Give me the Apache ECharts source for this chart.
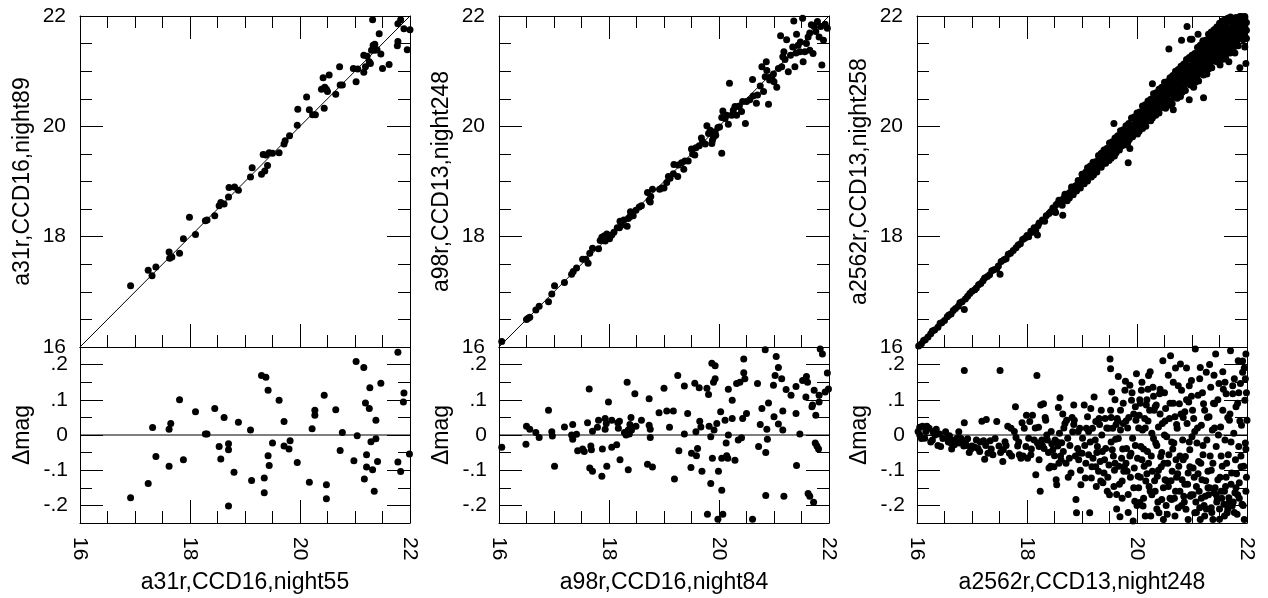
<!DOCTYPE html>
<html>
<head>
<meta charset="utf-8">
<script src="https://cdn.jsdelivr.net/npm/echarts@6/dist/echarts.min.js"></script>
<style>
html,body{margin:0;padding:0;background:#fff;}
#chart{width:1268px;height:598px;}
</style>
</head>
<body>
<div id="chart"></div>
<script>
// ---------- tick labels / titles ----------
const magTicks = [16, 18, 20, 22];
const resTicks = [-0.2, -0.1, 0, 0.1, 0.2];
const xTitles = ['a31r,CCD16,night55', 'a98r,CCD16,night84', 'a2562r,CCD13,night248'];
const yTitles = ['a31r,CCD16,night89', 'a98r,CCD13,night248', 'a2562r,CCD13,night258'];
const resTitle = 'Δmag';
const identityLine = [16, 22];
const zeroLevel = 0;

// ---------- panel 1 ----------
const p1Top = [[16.92,17.11],[17.24,17.39],[17.31,17.29],[17.38,17.45],[17.62,17.72],[17.63,17.61],[17.67,17.63],[17.81,17.70],[17.88,17.96],[17.99,18.35],[18.10,18.04],[18.28,18.29],[18.31,18.30],[18.45,18.38],[18.53,18.56],[18.56,18.62],[18.62,18.59],[18.70,18.72],[18.71,18.89],[18.81,18.90],[18.88,18.84],[19.10,19.08],[19.13,19.25],[19.30,19.13],[19.36,19.19],[19.41,19.29],[19.33,19.49],[19.38,19.48],[19.44,19.52],[19.50,19.51],[19.62,19.52],[19.71,19.68],[19.73,19.74],[19.81,19.83],[19.95,20.02],[19.96,20.31],[20.12,20.53],[20.17,20.30],[20.23,20.21],[20.28,20.21],[20.39,20.67],[20.44,20.33],[20.45,20.71],[20.48,20.67],[20.50,20.63],[20.42,20.88],[20.53,20.93],[20.65,20.58],[20.72,21.08],[20.73,20.75],[20.77,20.75],[20.97,21.05],[21.02,20.81],[21.05,21.04],[21.16,20.98],[21.16,21.29],[21.19,21.08],[21.22,21.27],[21.26,21.17],[21.28,21.14],[21.30,21.38],[21.33,21.47],[21.36,21.38],[21.32,21.93],[21.36,21.49],[21.40,21.39],[21.44,21.68],[21.47,21.31],[21.50,21.05],[21.62,21.12],[21.77,21.46],[21.78,21.54],[21.78,21.86],[21.83,21.93],[21.89,21.77],[21.95,21.39],[22.0,21.75]];
const p1Res = [[16.92,-0.178],[17.24,-0.138],[17.32,0.021],[17.38,-0.061],[17.62,0.016],[17.65,0.033],[17.62,-0.089],[17.81,0.100],[17.88,-0.070],[18.10,0.066],[18.28,0.003],[18.31,0.003],[18.45,0.075],[18.53,-0.033],[18.56,-0.068],[18.62,0.050],[18.70,-0.025],[18.70,-0.042],[18.70,-0.202],[18.80,-0.106],[18.88,0.036],[19.10,0.014],[19.12,-0.129],[19.30,0.169],[19.38,0.164],[19.35,-0.122],[19.35,-0.164],[19.42,0.127],[19.42,-0.059],[19.44,-0.087],[19.50,-0.023],[19.62,0.099],[19.71,0.038],[19.71,-0.031],[19.80,-0.040],[19.82,-0.016],[19.95,-0.078],[20.17,-0.134],[20.22,0.018],[20.27,0.070],[20.27,0.056],[20.44,0.113],[20.48,-0.141],[20.48,-0.181],[20.65,0.072],[20.73,-0.044],[20.77,0.007],[20.98,-0.073],[21.02,0.209],[21.04,-0.002],[21.16,0.192],[21.17,-0.125],[21.19,0.091],[21.21,-0.056],[21.21,-0.091],[21.26,0.075],[21.27,0.134],[21.29,-0.019],[21.32,-0.099],[21.35,-0.160],[21.38,-0.011],[21.38,0.042],[21.41,-0.075],[21.47,0.147],[21.78,0.235],[21.78,-0.077],[21.83,-0.104],[21.89,0.119],[21.88,0.094],[21.99,-0.054]];

// ---------- panel 2 ----------
const p2Top = [[16.05,16.10],[16.50,16.50],[16.53,16.52],[16.56,16.54],[16.67,16.67],[16.73,16.74],[16.90,16.82],[16.96,16.96],[17.01,17.11],[17.19,17.17],[17.32,17.32],[17.35,17.37],[17.41,17.43],[17.52,17.59],[17.58,17.59],[17.62,17.52],[17.65,17.70],[17.70,17.79],[17.81,17.78],[17.84,17.93],[17.87,17.99],[17.88,17.94],[17.91,18.01],[17.93,17.92],[17.96,18.05],[18.01,17.96],[18.05,18.03],[18.09,18.08],[18.15,18.16],[18.19,18.16],[18.20,18.28],[18.23,18.21],[18.27,18.30],[18.33,18.19],[18.35,18.33],[18.38,18.36],[18.39,18.45],[18.44,18.38],[18.49,18.48],[18.55,18.54],[18.59,18.56],[18.70,18.80],[18.73,18.66],[18.75,18.63],[18.76,18.73],[18.79,18.86],[18.92,18.86],[18.96,18.88],[19.00,18.88],[19.05,18.98],[19.08,19.09],[19.11,19.06],[19.17,19.14],[19.18,19.31],[19.25,19.09],[19.26,19.30],[19.32,19.34],[19.36,19.22],[19.38,19.37],[19.44,19.37],[19.50,19.59],[19.52,19.50],[19.56,19.48],[19.58,19.61],[19.64,19.65],[19.68,19.79],[19.70,19.72],[19.75,19.68],[19.78,20.01],[19.81,19.87],[19.84,19.93],[19.87,19.69],[19.88,19.75],[19.90,19.80],[19.93,19.90],[19.94,19.84],[19.98,19.98],[20.01,19.99],[20.05,19.51],[20.05,20.16],[20.07,20.28],[20.11,20.14],[20.14,20.20],[20.17,20.04],[20.19,20.78],[20.23,20.20],[20.26,20.29],[20.29,20.36],[20.32,20.20],[20.35,20.36],[20.37,20.37],[20.41,20.27],[20.43,20.45],[20.48,20.05],[20.50,20.45],[20.56,20.48],[20.61,20.85],[20.62,20.55],[20.68,20.42],[20.70,20.57],[20.75,20.73],[20.78,21.08],[20.81,20.63],[20.84,20.90],[20.86,21.17],[20.87,21.01],[20.90,20.40],[20.92,20.84],[20.93,20.89],[20.96,20.87],[20.99,20.95],[21.00,20.81],[21.05,20.71],[21.08,21.05],[21.12,21.64],[21.14,21.08],[21.16,21.26],[21.18,21.35],[21.20,21.21],[21.23,21.57],[21.26,20.99],[21.30,21.29],[21.34,21.44],[21.36,21.91],[21.38,21.08],[21.40,21.33],[21.41,21.67],[21.44,21.47],[21.47,21.35],[21.48,21.53],[21.52,21.96],[21.53,21.17],[21.56,21.35],[21.59,21.50],[21.62,21.62],[21.65,21.69],[21.65,21.38],[21.68,21.84],[21.71,21.32],[21.73,21.81],[21.76,21.72],[21.79,21.90],[21.82,21.62],[21.85,21.81],[21.87,21.11],[21.90,21.56],[21.93,21.85],[21.97,21.78]];
const p2Res = [[16.05,-0.035],[16.49,-0.026],[16.50,0.025],[16.56,0.016],[16.67,0.007],[16.73,-0.007],[16.90,0.070],[16.96,0.009],[16.97,-0.003],[17.01,-0.089],[17.19,0.023],[17.32,0.0],[17.34,0.030],[17.34,-0.012],[17.41,0.002],[17.43,-0.045],[17.52,-0.040],[17.55,-0.047],[17.61,0.035],[17.64,0.131],[17.67,-0.031],[17.68,-0.042],[17.65,-0.094],[17.70,-0.103],[17.70,0.011],[17.79,0.022],[17.81,0.042],[17.87,-0.117],[17.88,-0.040],[17.93,0.047],[17.93,0.016],[17.95,0.033],[17.96,-0.089],[17.99,0.094],[18.05,0.042],[18.05,-0.035],[18.14,-0.028],[18.16,0.035],[18.17,0.019],[18.19,0.039],[18.20,-0.070],[18.28,0.007],[18.31,0.0],[18.33,0.150],[18.35,0.014],[18.35,-0.099],[18.37,0.003],[18.38,0.030],[18.40,0.050],[18.41,0.014],[18.47,0.117],[18.49,0.025],[18.59,0.042],[18.70,-0.083],[18.73,0.103],[18.73,0.028],[18.75,0.016],[18.75,-0.007],[18.79,-0.091],[18.91,0.063],[19.00,0.133],[19.05,0.068],[19.10,0.022],[19.17,0.068],[19.19,-0.125],[19.25,0.169],[19.27,-0.045],[19.37,0.139],[19.37,0.003],[19.43,0.061],[19.49,-0.092],[19.50,-0.052],[19.56,0.147],[19.58,0.009],[19.59,-0.059],[19.61,-0.038],[19.64,0.134],[19.65,0.039],[19.67,0.023],[19.69,-0.103],[19.78,0.133],[19.79,-0.225],[19.81,0.115],[19.82,0.025],[19.85,-0.138],[19.85,-0.005],[19.87,0.204],[19.88,-0.066],[19.90,0.150],[19.91,0.014],[19.93,0.197],[19.93,0.160],[19.96,0.033],[19.98,-0.239],[19.99,-0.103],[20.03,0.066],[20.05,-0.157],[20.07,-0.225],[20.05,-0.066],[20.11,0.042],[20.13,-0.023],[20.14,-0.059],[20.16,-0.066],[20.17,0.130],[20.17,0.0],[20.24,0.047],[20.24,0.099],[20.29,-0.072],[20.32,0.146],[20.35,-0.014],[20.38,0.150],[20.41,-0.008],[20.43,0.047],[20.45,0.216],[20.45,0.177],[20.47,0.160],[20.50,0.061],[20.61,-0.239],[20.70,0.146],[20.72,-0.033],[20.75,0.030],[20.78,0.075],[20.84,0.242],[20.85,-0.050],[20.85,-0.172],[20.87,0.016],[20.88,-0.012],[20.90,0.091],[20.99,0.141],[21.00,0.052],[21.02,0.169],[21.04,0.223],[21.08,0.192],[21.08,0.031],[21.14,0.160],[21.16,0.068],[21.16,0.014],[21.18,-0.174],[21.22,0.129],[21.31,0.113],[21.40,0.138],[21.40,0.061],[21.41,-0.087],[21.47,0.003],[21.52,0.155],[21.58,0.108],[21.59,0.166],[21.61,0.150],[21.62,-0.166],[21.65,-0.174],[21.69,0.080],[21.70,0.085],[21.72,-0.191],[21.73,0.127],[21.76,0.056],[21.75,-0.023],[21.78,-0.031],[21.81,-0.040],[21.82,0.113],[21.84,0.244],[21.88,0.230],[21.93,0.122],[21.97,0.176],[21.99,0.131],[21.82,0.094]];

// ---------- panel 3 ----------
const p3Top = [[16.03,16.02],[16.08,16.06],[16.12,16.12],[16.15,16.13],[16.20,16.18],[16.25,16.24],[16.28,16.29],[16.32,16.31],[16.38,16.36],[16.42,16.43],[16.45,16.44],[16.50,16.48],[16.55,16.55],[16.58,16.58],[16.62,16.60],[16.66,16.66],[16.70,16.70],[16.75,16.74],[16.78,16.80],[16.82,16.82],[16.86,16.68],[16.88,16.87],[16.92,16.92],[16.96,16.97],[17.00,17.01],[17.05,17.04],[17.08,17.07],[17.12,17.13],[17.16,17.15],[17.20,17.20],[17.23,17.25],[17.28,17.28],[17.32,17.31],[17.36,17.38],[17.40,17.40],[17.45,17.42],[17.48,17.47],[17.51,17.32],[17.53,17.55],[17.58,17.58],[17.62,17.60],[17.66,17.68],[17.70,17.70],[17.75,17.75],[17.80,17.80],[17.84,17.85],[17.88,17.87],[17.92,17.95],[17.96,17.97],[18.00,18.02],[18.03,18.00],[18.07,18.10],[18.10,18.08],[18.13,18.16],[18.16,18.12],[18.19,18.03],[18.20,18.20],[18.22,18.25],[18.28,18.30],[18.32,18.28],[18.35,18.38],[18.40,18.42],[18.43,18.45],[18.47,18.52],[18.50,18.48],[18.53,18.58],[18.56,18.60],[18.60,18.62],[18.62,18.66],[18.65,18.39],[18.67,18.70],[18.70,18.72],[18.75,18.78],[18.78,18.80],[18.82,18.86],[18.85,18.82],[18.88,18.92],[18.92,18.95],[18.95,18.93],[18.98,19.00],[19.02,19.04],[19.05,19.10],[19.08,19.06],[19.12,19.15],[19.15,19.12],[19.18,19.22],[19.20,19.18],[19.22,19.28],[19.25,19.22],[19.28,19.32],[19.30,19.35],[19.33,19.28],[19.36,19.40],[19.38,19.45],[19.40,19.33],[19.42,19.48],[19.45,19.42],[19.48,19.52],
[18.52,18.44],[18.58,18.66],[18.64,18.57],[18.69,18.77],[18.73,18.65],[18.77,18.70],[18.81,18.90],[18.84,18.76],[18.90,18.83],[18.93,19.02],[18.97,18.88],[19.01,19.09],[19.04,18.96],[19.07,19.17],[19.10,19.01],[19.14,19.24],[19.17,19.08],[19.21,19.12],[19.24,19.33],[19.27,19.17],[19.31,19.42],[19.35,19.26],[19.39,19.50],[19.43,19.33],[19.46,19.57],[19.49,19.38],
[19.50,19.53],[19.50,19.43],[19.50,19.58],[19.53,19.48],[19.53,19.59],[19.53,19.42],[19.56,19.63],[19.56,19.54],[19.56,19.47],[19.59,19.58],[19.59,19.69],[19.59,19.46],[19.62,19.67],[19.62,19.52],[19.62,19.58],[19.65,19.57],[19.65,19.66],[19.65,19.76],[19.68,19.68],[19.68,19.64],[19.68,19.57],[19.71,19.80],[19.71,19.64],[19.71,19.75],[19.74,19.77],[19.74,19.67],[19.74,19.82],[19.77,19.72],[19.77,19.83],[19.77,19.66],[19.80,19.87],[19.80,19.78],[19.80,19.71],[19.83,19.82],[19.83,19.93],[19.83,19.70],[19.86,19.91],[19.86,19.76],[19.86,19.88],[19.89,19.81],[19.89,19.90],[19.89,20.00],[19.92,19.92],[19.92,19.99],[19.92,19.81],[19.95,20.04],[19.95,19.88],[19.95,19.99],[19.98,20.01],[19.98,19.91],[19.98,20.06],
[20.01,19.94],[20.01,20.10],[20.01,19.86],[20.04,20.14],[20.04,20.01],[20.04,19.91],[20.07,20.06],[20.07,20.21],[20.07,19.98],[20.10,20.17],[20.10,19.96],[20.10,20.13],[20.13,20.02],[20.13,20.15],[20.13,20.28],[20.16,20.16],[20.16,20.25],[20.16,20.00],[20.19,20.32],[20.19,20.10],[20.19,20.24],[20.22,20.26],[20.22,20.12],[20.22,20.34],[20.25,20.18],[20.25,20.34],[20.25,20.10],[20.28,20.38],[20.28,20.25],[20.28,20.15],[20.31,20.30],[20.31,20.45],[20.31,20.22],[20.34,20.41],[20.34,20.20],[20.34,20.37],[20.37,20.26],[20.37,20.39],[20.37,20.52],[20.40,20.40],[20.40,20.49],[20.40,20.24],[20.43,20.56],[20.43,20.34],[20.43,20.48],[20.46,20.50],[20.46,20.36],[20.46,20.58],[20.49,20.42],[20.49,20.58],[20.49,20.34],
[20.52,20.63],[20.52,20.46],[20.52,20.33],[20.55,20.52],[20.55,20.71],[20.55,20.42],[20.58,20.65],[20.58,20.38],[20.58,20.59],[20.61,20.45],[20.61,20.61],[20.61,20.79],[20.64,20.62],[20.64,20.74],[20.64,20.41],[20.67,20.82],[20.67,20.53],[20.67,20.72],[20.70,20.74],[20.70,20.55],[20.70,20.83],[20.73,20.62],[20.73,20.82],[20.73,20.51],[20.76,20.87],[20.76,20.70],[20.76,20.57],[20.79,20.76],[20.79,20.95],[20.79,20.54],[20.82,20.89],[20.82,20.62],[20.82,20.83],[20.85,20.69],[20.85,20.85],[20.85,21.03],[20.88,20.86],[20.88,20.98],[20.88,20.65],[20.91,21.06],[20.91,20.77],[20.91,20.96],[20.94,20.98],[20.94,20.79],[20.94,21.07],[20.97,20.86],[20.97,21.06],[20.97,20.75],
[21.00,21.11],[21.00,20.90],[21.00,20.75],[21.00,21.04],[21.03,20.97],[21.03,21.19],[21.03,20.85],[21.03,20.71],[21.06,21.11],[21.06,20.80],[21.06,21.05],[21.06,20.93],[21.09,20.87],[21.09,21.07],[21.09,21.27],[21.09,20.92],[21.12,21.07],[21.12,20.98],[21.12,21.21],[21.12,20.82],[21.15,21.30],[21.15,20.96],[21.15,21.06],[21.15,21.18],[21.18,21.20],[21.18,20.97],[21.18,21.31],[21.18,21.10],[21.21,21.06],[21.21,21.29],[21.21,20.93],[21.21,21.17],[21.24,21.35],[21.24,21.14],[21.24,20.99],[21.24,21.28],[21.27,21.21],[21.27,21.43],[21.27,21.09],[21.27,20.95],[21.30,21.35],[21.30,21.04],[21.30,21.29],[21.30,21.17],[21.33,21.11],[21.33,21.31],[21.33,21.51],[21.33,21.16],[21.36,21.31],[21.36,21.22],[21.36,21.45],[21.36,21.06],[21.39,21.54],[21.39,21.20],[21.39,21.30],[21.39,21.42],[21.42,21.44],[21.42,21.21],[21.42,21.55],[21.42,21.34],[21.45,21.30],[21.45,21.53],[21.45,21.17],[21.45,21.41],[21.48,21.59],[21.48,21.38],[21.48,21.23],[21.48,21.52],
[21.51,21.40],[21.51,21.64],[21.51,21.26],[21.51,21.11],[21.54,21.56],[21.54,21.21],[21.54,21.48],[21.54,21.35],[21.57,21.28],[21.57,21.50],[21.57,21.73],[21.57,21.34],[21.60,21.50],[21.60,21.40],[21.60,21.66],[21.60,21.22],[21.63,21.75],[21.63,21.37],[21.63,21.49],[21.63,21.62],[21.66,21.63],[21.66,21.39],[21.66,21.76],[21.66,21.53],[21.69,21.47],[21.69,21.74],[21.69,21.33],[21.69,21.60],[21.72,21.79],[21.72,21.56],[21.72,21.40],[21.72,21.72],[21.75,21.64],[21.75,21.88],[21.75,21.50],[21.75,21.35],[21.78,21.80],[21.78,21.45],[21.78,21.72],[21.78,21.59],[21.81,21.52],[21.81,21.74],[21.81,21.97],[21.81,21.58],[21.84,21.74],[21.84,21.64],[21.84,21.90],[21.84,21.46],[21.87,21.99],[21.87,21.61],[21.87,21.73],[21.87,21.86],[21.90,21.87],[21.90,21.63],[21.90,21.99],[21.90,21.77],[21.93,21.71],[21.93,21.98],[21.93,21.57],[21.93,21.84],[21.96,21.99],[21.96,21.80],[21.96,21.64],[21.96,21.96],[21.99,21.88],[21.99,21.74],[21.99,21.59],
[19.00,19.13],[19.10,19.25],[19.20,19.35],[19.30,19.47],[19.40,19.57],[19.50,19.70],[19.60,19.79],[19.70,19.92],[19.80,20.01],[19.90,20.15],[20.00,20.24],[20.10,20.37],[20.20,20.46],[20.30,20.59],[20.40,20.67],[20.50,20.80],[20.60,20.88],[20.70,21.00],[20.80,21.09],[20.90,21.21],[21.00,21.29],[21.10,21.43],[21.20,21.54],[21.30,21.67],[21.40,21.75],[21.50,21.87],[21.60,21.93],[21.70,21.98],
[19.05,19.14],[19.15,19.28],[19.25,19.36],[19.35,19.51],[19.45,19.60],[19.55,19.72],[19.65,19.83],[19.75,19.94],[19.85,20.05],[19.95,20.17],[20.05,20.26],[20.15,20.39],[20.25,20.49],[20.35,20.61],[20.45,20.71],[20.55,20.81],[20.65,20.92],[20.75,21.03],[20.85,21.13],[20.95,21.25],[21.05,21.32],[21.15,21.47],[21.25,21.56],[21.35,21.71],[21.45,21.78],[21.55,21.91],[21.65,21.96],
[21.02,21.24],[21.08,21.31],[21.14,21.37],[21.19,21.41],[21.26,21.49],[21.32,21.57],[21.37,21.61],[21.43,21.68],[21.49,21.73],[21.54,21.77],[21.61,21.84],[21.67,21.90],[21.73,21.93],[21.79,21.97],[20.55,20.76],[20.62,20.84],[20.68,20.90],[20.74,20.97],[20.84,21.07],[20.89,21.13],[20.99,21.21],
[19.58,20.05],[19.84,19.34],[19.87,19.60],[20.28,20.77],[20.58,21.40],[20.81,21.56],[20.91,21.81],[20.97,21.58],[21.00,21.58],[21.11,21.67],[21.21,20.52],[21.61,21.25],[21.67,21.17],[21.78,21.33],[21.87,21.06],[21.96,21.44],[21.98,21.14],[21.45,21.80],[21.20,21.55],[20.66,20.30],[20.95,20.48]];
const p3Res = [[16.05,0.022],[16.05,0.0],[16.10,0.025],[16.14,-0.009],[16.18,0.025],[16.22,0.019],[16.28,-0.014],[16.29,0.009],[16.35,0.016],[16.41,0.003],[16.43,-0.033],[16.52,0.009],[16.54,-0.009],[16.59,-0.002],[16.62,-0.023],[16.65,-0.014],[16.68,-0.028],[16.73,-0.009],[16.76,0.009],[16.77,-0.023],[16.85,-0.031],[16.86,0.183],[16.86,0.035],[16.88,-0.019],[16.92,-0.011],[16.98,-0.040],[17.00,-0.031],[17.05,-0.035],[17.08,-0.014],[17.11,-0.038],[17.14,-0.047],[17.18,0.039],[17.21,-0.016],[17.23,-0.069],[17.26,0.044],[17.29,-0.052],[17.33,-0.016],[17.38,-0.056],[17.45,0.038],[17.49,-0.031],[17.51,0.183],[17.56,-0.075],[17.57,-0.042],[17.60,-0.019],[17.65,0.025],[17.68,-0.052],[17.71,0.019],[17.79,0.080],[17.80,-0.007],[17.83,-0.031],[17.86,-0.056],[17.89,-0.066],[17.91,0.035],[17.95,0.019],[17.98,-0.033],[17.99,0.056],[18.01,-0.066],[18.03,-0.009],[18.05,0.038],[18.07,-0.056],[18.10,0.056],[18.13,-0.014],[18.16,-0.113],[18.18,0.169],[18.19,-0.023],[18.21,0.022],[18.22,-0.033],[18.24,-0.160],[18.25,0.085],[18.27,-0.014],[18.30,0.089],[18.31,-0.038],[18.34,0.042],[18.36,0.0],[18.37,-0.014],[18.40,-0.094],[18.43,-0.089],[18.45,-0.025],[18.47,-0.042],[18.50,-0.059],[18.51,-0.014],[18.53,-0.127],[18.54,-0.141],[18.56,-0.031],[18.57,0.078],[18.59,0.005],[18.60,0.106],[18.62,-0.072],[18.63,-0.022],[18.66,-0.047],[18.69,0.033],[18.72,0.042],[18.74,-0.009],[18.77,-0.066],[18.80,-0.108],[18.83,0.009],[18.85,0.085],[18.86,0.042],[18.89,-0.183],[18.90,-0.221],[18.92,-0.038],[18.94,-0.070],[18.96,0.019],[18.98,-0.141],[19.00,-0.052],[19.01,-0.009],[19.04,0.085],[19.06,-0.122],[19.07,-0.080],[19.08,0.019],[19.10,0.052],[19.12,-0.056],[19.14,-0.221],[19.16,0.075],[19.17,-0.122],[19.19,0.019],[19.20,-0.066],[19.22,0.108],[19.24,-0.014],[19.25,0.038],[19.26,-0.146],[19.28,-0.033],[19.30,-0.103],[19.31,0.047],[19.33,-0.075],[19.34,-0.131],[19.36,0.0],[19.37,-0.047],[19.38,-0.136],[19.40,-0.108],[19.42,0.047],[19.43,-0.038],[19.46,-0.160],[19.48,0.019],[19.49,-0.085],[19.51,0.216],[19.52,0.188],[19.52,0.070],[19.54,0.122],[19.55,-0.042],[19.56,0.019],[19.58,-0.146],[19.60,-0.080],[19.61,-0.012],[19.63,-0.169],[19.64,0.047],[19.66,0.166],[19.67,-0.089],[19.69,-0.232],[19.70,0.014],[19.72,-0.066],[19.73,-0.131],[19.75,0.033],[19.76,-0.103],[19.78,0.127],[19.79,0.153],[19.81,-0.038],[19.82,-0.103],[19.84,-0.169],[19.85,0.050],[19.87,0.141],[19.89,-0.052],[19.90,0.099],[19.92,-0.009],[19.93,-0.244],[19.95,-0.094],[19.96,-0.188],[19.98,0.042],[19.99,0.174],[20.01,-0.066],[20.02,-0.117],[20.04,0.056],[20.05,-0.192],[20.07,-0.033],[20.08,0.127],[20.10,0.014],[20.11,-0.202],[20.13,-0.089],[20.14,0.047],[20.16,-0.131],[20.17,0.085],[20.19,-0.047],[20.21,0.169],[20.22,-0.146],[20.23,0.070],[20.25,-0.230],[20.27,0.005],[20.28,-0.103],[20.29,0.136],[20.31,0.070],[20.33,-0.160],[20.34,-0.023],[20.35,0.085],[20.37,-0.117],[20.39,0.023],[20.40,-0.221],[20.41,0.117],[20.43,-0.061],[20.45,-0.183],[20.46,0.033],[20.47,0.211],[20.49,-0.080],[20.51,-0.127],[20.52,0.075],[20.54,-0.005],[20.55,-0.225],[20.57,-0.146],[20.58,-0.056],[20.59,0.047],[20.61,0.225],[20.63,-0.183],[20.64,-0.103],[20.66,0.150],[20.67,-0.023],[20.69,0.052],[20.70,-0.160],[20.71,-0.070],[20.73,0.019],[20.75,-0.207],[20.76,-0.089],[20.77,0.089],[20.79,0.202],[20.81,0.127],[20.82,-0.127],[20.83,-0.014],[20.85,-0.174],[20.87,0.066],[20.88,-0.061],[20.89,-0.211],[20.91,0.033],[20.93,-0.108],[20.94,0.094],[20.96,-0.042],[20.97,-0.174],[20.99,0.155],[21.00,-0.005],[21.02,-0.094],[21.03,0.047],[21.05,-0.221],[21.06,0.244],[21.08,-0.146],[21.09,-0.023],[21.11,0.113],[21.12,-0.075],[21.14,-0.207],[21.15,0.192],[21.17,0.028],[21.18,-0.127],[21.20,-0.056],[21.21,0.089],[21.23,-0.230],[21.24,-0.174],[21.26,0.178],[21.27,-0.014],[21.29,-0.103],[21.31,0.052],[21.32,-0.150],[21.34,0.136],[21.35,-0.207],[21.37,0.014],[21.38,-0.080],[21.40,-0.164],[21.41,0.089],[21.43,0.230],[21.44,-0.033],[21.46,-0.183],[21.47,-0.127],[21.49,0.146],[21.50,-0.239],[21.52,0.023],[21.53,-0.160],[21.55,-0.089],[21.56,0.070],[21.58,-0.197],[21.60,-0.014],[21.61,-0.146],[21.62,0.117],[21.64,-0.221],[21.66,-0.056],[21.67,-0.178],[21.68,0.042],[21.70,0.239],[21.72,-0.108],[21.73,-0.202],[21.74,0.117],[21.76,0.005],[21.78,-0.164],[21.79,-0.070],[21.80,0.080],[21.82,-0.225],[21.84,0.211],[21.85,-0.033],[21.86,-0.136],[21.88,0.146],[21.90,0.028],[21.91,-0.197],[21.92,0.178],[21.94,-0.089],[21.96,0.099],[21.97,-0.023],[21.98,-0.160],[22.00,0.042],[21.98,0.230],
[19.05,-0.03],[19.12,0.01],[19.18,-0.09],[19.27,-0.05],[19.32,0.03],[19.41,-0.07],[19.47,-0.12],[19.53,-0.02],[19.59,-0.10],[19.62,0.03],[19.68,-0.14],[19.74,-0.04],[19.80,-0.08],[19.83,0.02],[19.88,-0.12],[19.94,0.06],[19.97,-0.03],[20.03,-0.15],[20.06,0.09],[20.09,-0.07],[20.12,-0.18],[20.15,0.02],[20.18,-0.11],[20.20,0.04],[20.24,-0.16],[20.26,-0.06],[20.30,0.11],[20.32,-0.13],[20.36,-0.03],[20.38,-0.19],[20.42,0.06],[20.44,-0.09],[20.48,-0.15],[20.50,0.00],[20.53,-0.20],[20.56,-0.08],[20.60,0.09],[20.62,-0.13],[20.65,-0.04],[20.68,-0.18],[20.72,0.03],[20.74,-0.11],[20.78,-0.16],[20.80,0.06],[20.84,-0.07],[20.86,-0.19],[20.90,0.10],[20.92,-0.14],[20.95,-0.02],[20.98,-0.17],[21.01,0.07],[21.04,-0.12],[21.07,-0.19],[21.10,0.02],[21.13,-0.16],[21.16,-0.08],[21.19,0.12],[21.22,-0.20],[21.25,-0.13],[21.28,0.05],[21.30,-0.17],[21.33,-0.06],[21.36,-0.22],[21.39,0.09],[21.42,-0.15],[21.45,-0.19],[21.48,0.00],[21.51,-0.12],[21.54,-0.18],[21.57,0.13],[21.59,-0.16],[21.63,-0.08],[21.65,-0.21],[21.69,0.06],[21.71,-0.14],[21.75,-0.19],[21.77,0.16],[21.81,-0.11],[21.83,-0.17],[21.87,0.04],[21.89,-0.06],[21.93,-0.20],[21.95,0.19],[21.99,-0.12],[21.99,0.12],
[18.08,-0.04],[18.15,0.02],[18.22,-0.07],[18.28,-0.03],[18.33,0.05],[18.39,-0.05],[18.44,0.01],[18.49,-0.09],[18.55,-0.02],[18.61,-0.06],[18.67,0.02],[18.71,-0.08],[18.78,-0.03],[18.82,0.05],[18.88,-0.06],[18.93,0.01],[18.97,-0.10],
[17.15,-0.02],[17.25,-0.03],[17.35,-0.04],[17.42,-0.01],[17.52,-0.05],[17.62,-0.03],[17.72,-0.06],[17.77,0.01],[17.85,-0.02],[17.93,-0.06],
[16.02,0.01],[16.08,-0.01],[16.16,0.01],[16.25,-0.02],[16.33,0.0],[16.38,-0.03],[16.47,-0.01],[16.57,-0.02],[16.63,-0.04],[16.70,-0.02],[16.80,-0.01],[16.90,-0.03],[16.95,-0.05],
[19.50,-0.17],[19.53,0.05],[19.57,-0.06],[19.60,0.10],[19.63,-0.21],[19.66,-0.01],[19.70,0.07],[19.73,-0.18],[19.77,-0.09],[19.80,0.04],[19.84,-0.22],[19.87,-0.06],[19.91,0.12],[19.94,-0.15],[19.97,0.08],[20.00,-0.20],[20.03,0.02],[20.06,-0.12],[20.09,0.15],[20.12,-0.04],[20.15,-0.23],[20.18,0.10],[20.21,-0.08],[20.24,0.18],[20.27,-0.17],[20.30,-0.01],[20.33,0.08],[20.36,-0.21],[20.39,-0.10],[20.42,0.13],[20.45,-0.05],[20.48,-0.24],[20.51,0.04],[20.54,-0.13],[20.57,0.17],[20.60,-0.18],[20.63,-0.02],[20.66,0.09],[20.69,-0.23],[20.72,-0.12],[20.75,0.14],[20.78,-0.06],[20.81,-0.20],[20.84,0.05],[20.87,-0.14],[20.90,0.19],[20.93,-0.24],[20.96,-0.09],[20.99,0.11],[21.02,-0.17],[21.05,0.01],[21.08,-0.22],[21.11,-0.11],[21.14,0.16],[21.17,-0.18],[21.20,-0.03],[21.23,0.07],[21.26,-0.21],[21.29,-0.15],[21.32,0.20],[21.35,-0.10],[21.38,-0.24],[21.41,0.02],[21.44,-0.17],[21.47,0.10],[21.50,-0.21],[21.53,-0.06],[21.56,0.18],[21.59,-0.23],[21.62,-0.12],[21.65,0.05],[21.68,-0.19],[21.71,-0.02],[21.74,0.14],[21.77,-0.22],[21.80,-0.15],[21.83,0.09],[21.86,-0.18],[21.89,-0.09],[21.92,0.21],[21.95,-0.24],[21.98,-0.04],[21.97,0.16],[21.85,0.12],[21.60,0.15],[21.40,0.17],[21.15,-0.24],[20.95,0.14],[20.70,0.19],[20.50,0.12],[20.20,0.13],[20.05,0.10],[19.75,0.09],[19.65,0.04],[19.45,0.02],[19.35,0.07],[19.25,-0.09],[19.15,-0.02],[18.95,-0.05],[18.85,0.03],[18.75,-0.12],[18.65,0.06],[18.58,-0.08]];

const panels = [
  {top: p1Top, res: p1Res},
  {top: p2Top, res: p2Res},
  {top: p3Top, res: p3Res}
];

// ---------- layout ----------
const panelLeft = [80, 499, 917];
const panelWidth = 330;
const topY = 16, topH = 331, resY = 347, resH = 176;
const FONT = '"Liberation Sans", Arial, Helvetica, sans-serif';
const black = '#000';
const lineSt = {color: black, width: 1};

const grids = [], xAxes = [], yAxes = [], series = [];

function magAxisBase(extra) {
  return Object.assign({
    type: 'value', min: magTicks[0], max: magTicks[magTicks.length - 1], interval: 2,
    axisLine: {show: true, onZero: false, lineStyle: lineSt},
    axisTick: {show: true, inside: true, length: 23, lineStyle: lineSt},
    minorTick: {show: true, splitNumber: 4, length: 12, lineStyle: lineSt},
    axisLabel: {show: false},
    splitLine: {show: false}, minorSplitLine: {show: false}
  }, extra);
}
function resFmt(v) {
  const r = Math.round(v * 10);
  if (Math.abs(v * 10 - r) > 1e-6) return '';
  if (r === 0) return '0';
  return r > 0 ? '.' + r : '-.' + (-r);
}
const dotStyle = {color: black, opacity: 1, borderWidth: 0};

panels.forEach((p, i) => {
  const L = panelLeft[i];
  const gT = grids.length;
  grids.push({left: L, top: topY, width: panelWidth, height: topH, containLabel: false});
  const xb = xAxes.length;
  xAxes.push(magAxisBase({gridIndex: gT, position: 'bottom'}));
  xAxes.push(magAxisBase({gridIndex: gT, position: 'top'}));
  const yl = yAxes.length;
  yAxes.push(magAxisBase({
    gridIndex: gT, position: 'left',
    axisLabel: {show: true, fontSize: 21, color: black, fontFamily: FONT, margin: 14},
    name: yTitles[i], nameLocation: 'middle', nameGap: 46,
    nameTextStyle: {fontSize: 23, color: black, fontFamily: FONT}
  }));
  yAxes.push(magAxisBase({gridIndex: gT, position: 'right'}));

  series.push({type: 'line', xAxisIndex: xb, yAxisIndex: yl, data: [[identityLine[0], identityLine[0]], [identityLine[1], identityLine[1]]],
    symbol: 'none', lineStyle: {color: black, width: 1}, silent: true, animation: false, z: 1});
  series.push({type: 'scatter', xAxisIndex: xb, yAxisIndex: yl, data: p.top, symbolSize: 7,
    itemStyle: dotStyle, silent: true, animation: false, z: 2, large: false});

  const gR = grids.length;
  grids.push({left: L, top: resY, width: panelWidth, height: resH, containLabel: false});
  const rxb = xAxes.length;
  xAxes.push(magAxisBase({
    gridIndex: gR, position: 'bottom',
    axisLabel: {show: true, rotate: -90, fontSize: 21, color: black, fontFamily: FONT, margin: 14},
    name: xTitles[i], nameLocation: 'middle', nameGap: 48,
    nameTextStyle: {fontSize: 23, color: black, fontFamily: FONT}
  }));
  xAxes.push({gridIndex: gR, type: 'value', position: 'top', min: 16, max: 22,
    axisLine: {show: true, onZero: false, lineStyle: lineSt}, axisTick: {show: false},
    axisLabel: {show: false}, splitLine: {show: false}});
  const ryl = yAxes.length;
  const resBase = (pos, extra) => Object.assign({
    gridIndex: gR, type: 'value', position: pos, min: -0.25, max: 0.25, interval: 0.05,
    axisLine: {show: true, onZero: false, lineStyle: lineSt},
    axisTick: {show: true, inside: true, length: 12, lineStyle: lineSt},
    axisLabel: {show: false}, splitLine: {show: false}
  }, extra);
  yAxes.push(resBase('left', {
    axisLabel: {show: true, fontSize: 21, color: black, fontFamily: FONT, margin: 12, formatter: resFmt},
    name: resTitle, nameLocation: 'middle', nameGap: 46,
    nameTextStyle: {fontSize: 23, color: black, fontFamily: FONT}
  }));
  yAxes.push(resBase('left', {axisLine: {show: false},
    axisTick: {show: true, inside: true, length: 23, lineStyle: lineSt, customValues: resTicks}}));
  yAxes.push(resBase('right', {}));
  yAxes.push(resBase('right', {axisLine: {show: false},
    axisTick: {show: true, inside: true, length: 23, lineStyle: lineSt, customValues: resTicks}}));

  series.push({type: 'line', xAxisIndex: rxb, yAxisIndex: ryl, data: [[identityLine[0], zeroLevel], [identityLine[1], zeroLevel]],
    symbol: 'none', lineStyle: {color: black, width: 1}, silent: true, animation: false, z: 1});
  series.push({type: 'scatter', xAxisIndex: rxb, yAxisIndex: ryl, data: p.res, symbolSize: 7,
    itemStyle: dotStyle, silent: true, animation: false, z: 2, large: false});
});

const chart = echarts.init(document.getElementById('chart'), null, {renderer: 'canvas'});
chart.setOption({
  backgroundColor: '#fff',
  animation: false,
  textStyle: {fontFamily: FONT, color: black},
  grid: grids, xAxis: xAxes, yAxis: yAxes, series: series
});
</script>
</body>
</html>
